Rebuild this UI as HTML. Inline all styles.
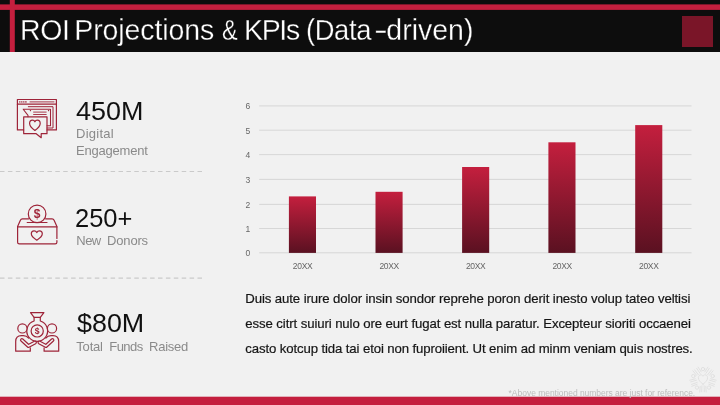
<!DOCTYPE html>
<html><head><meta charset="utf-8">
<style>
html,body{margin:0;padding:0;}
body{width:720px;height:405px;position:relative;overflow:hidden;background:#f1f1f1;font-family:"Liberation Sans",sans-serif;}
.abs{position:absolute;}
#shapes{left:0;top:0;width:720px;height:405px;}
#title{left:20px;top:9.6px;-webkit-text-stroke:0.3px #0d0d0d;transform:scaleY(1.045);transform-origin:0 50%;width:600px;height:42px;line-height:40px;color:#fff;font-size:28.5px;white-space:nowrap;letter-spacing:-0.42px;}
.big{font-size:25px;color:#111;white-space:nowrap;line-height:30px;}
.sub{font-size:13px;color:#8a8a8a;white-space:nowrap;line-height:16.6px;}
.pl{left:245.3px;font-size:13.2px;line-height:20px;color:#151515;-webkit-text-stroke:0.2px #151515;white-space:nowrap;}
#note{left:508.6px;top:386.5px;letter-spacing:-0.03px;font-size:8.5px;line-height:12px;color:#bcbcbc;white-space:nowrap;}
.ax{font-size:8.5px;fill:#666;font-family:"Liberation Sans",sans-serif;}
</style></head><body>
<svg class="abs" id="shapes" width="720" height="405" viewBox="0 0 720 405">
<defs>
<linearGradient id="bg" x1="0" y1="0" x2="0" y2="1"><stop offset="0" stop-color="#c41f3e"/><stop offset="1" stop-color="#5a1121"/></linearGradient>
</defs>
<rect x="0" y="0" width="720" height="52" fill="#0d0d0d"/>
<rect x="0" y="4.4" width="720" height="5.5" fill="#c41f3e"/>
<rect x="9.8" y="0" width="5" height="52" fill="#c41f3e"/>
<rect x="682" y="16" width="31" height="31" fill="#7a1528"/>
<rect x="0" y="396.7" width="720" height="8.3" fill="#c41f3e"/>
<!-- dashed separators -->
<line x1="0" y1="171.5" x2="202" y2="171.5" stroke="#cacaca" stroke-width="1.2" stroke-dasharray="4.5 3.4"/>
<line x1="0" y1="278.2" x2="202" y2="278.2" stroke="#cacaca" stroke-width="1.2" stroke-dasharray="4.5 3.4"/>

<!-- icons -->
<g fill="none" stroke="#9e2439" stroke-width="1.2" stroke-linejoin="round" stroke-linecap="round">
<!-- icon 1: browser + chat -->
<path d="M23.6 129.9 H17.4 V99.5 H56.4 V129.9 H47"/>
<path d="M17.4 104.2 H56.4"/>
<path d="M30 101.9 H54" stroke-width="0.9"/>
<path d="M19.6 101.9 h0.4 M21.6 101.9 h0.4 M23.6 101.9 h0.4 M25.6 101.9 h0.6" stroke-width="1.2"/>
<path d="M28.3 106.7 H53 V128 H47" stroke-width="1"/>
<path d="M28 116.8 V115.4 L23.2 109.2 H50.5 V125.8 H47" stroke-width="1.05"/>
<path d="M30.3 110.6 h0.3 M48.4 110.6 h0.3" stroke-width="1.1"/>
<path d="M33.6 112.1 H46.2 M33.6 114.5 H46.2" stroke-width="0.9"/>
<path d="M23.7 116.8 H47 V133.7 H41.2 V137.7 L36.2 133.7 H23.7 Z"/>
<path d="M34.9 130.4 C31.5 128 29.6 125.8 29.6 123.4 C29.6 121.4 31 120.1 32.5 120.1 C33.6 120.1 34.5 120.8 34.9 121.8 C35.3 120.8 36.2 120.1 37.3 120.1 C38.8 120.1 40.2 121.4 40.2 123.4 C40.2 125.8 38.3 128 34.9 130.4 Z"/>
<!-- icon 2: donation box -->
<circle cx="37.1" cy="213.9" r="8.8"/>
<path d="M27.2 222.5 H47"/>
<path d="M28.6 218.8 H22.4 Q21 218.8 20.4 220.2 L17.6 226.6 V242.2 Q17.6 243.9 19.3 243.9 H55.2 Q56.9 243.9 56.9 242.2 V240.5 M56.9 238.4 V226.6 L54.1 220.2 Q53.5 218.8 52.1 218.8 H45.6"/>
<path d="M17.6 226.9 H56.9"/>
<path d="M36.8 240.2 C33.6 238.2 31.3 236.2 31.3 233.8 C31.3 232 32.6 230.8 34.1 230.8 C35.3 230.8 36.3 231.5 36.8 232.6 C37.3 231.5 38.3 230.8 39.5 230.8 C41 230.8 42.3 232 42.3 233.8 C42.3 236.2 40 238.2 36.8 240.2 Z"/>
<!-- icon 3: fundraising -->
<path d="M30.5 312.7 H43.9 L40.3 317.4 H34.1 Z"/>
<path d="M34.1 317.4 V321 A10.4 10.4 0 1 0 40.3 321 V317.4"/>
<circle cx="37.2" cy="330.9" r="6.1"/>
<circle cx="22.4" cy="328.4" r="4.6" fill="#f1f1f1"/>
<circle cx="52" cy="328.4" r="4.6" fill="#f1f1f1"/>
<path d="M30.3 347.8 V351.2 H15.7 V341.6 Q15.7 335.7 21.4 335.7 H23.4 Q26.6 335.7 28.6 338" />
<path d="M44.1 347.8 V351.2 H58.7 V341.6 Q58.7 335.7 53 335.7 H51 Q47.8 335.7 45.8 338" />
<path d="M21.9 340 L28.4 346 L35 342.5" stroke-width="3.9"/>
<path d="M52.5 340 L46 346 L39.4 342.5" stroke-width="3.9"/>
<path d="M21.9 340 L28.4 346 L35 342.5" stroke="#f1f1f1" stroke-width="1.5"/>
<path d="M52.5 340 L46 346 L39.4 342.5" stroke="#f1f1f1" stroke-width="1.5"/>
</g>
<g font-family="Liberation Sans, sans-serif" fill="#a0263a" text-anchor="middle">
<text x="37.1" y="218.2" font-size="12" font-weight="bold">$</text>
<text x="37.2" y="334" font-size="8.6" font-weight="bold">$</text>
</g>
<!-- logo -->
<g fill="none" stroke="#dfdfdf" stroke-width="0.9" stroke-linecap="round"><path d="M703 384.2 C700 382 698.4 380 698.4 377.7 C698.4 375.9 699.7 374.8 701 374.8 C702 374.8 702.7 375.4 703 376.3 C703.3 375.4 704 374.8 705 374.8 C706.3 374.8 707.6 375.9 707.6 377.7 C707.6 380 706 382 703 384.2 Z"/><circle cx="703.0" cy="369.1" r="1.7"/><path d="M698.1 367.1 L701.2 371.9 M707.9 367.1 L704.8 371.9"/><path d="M696.7 368.4 L700.1 373.4 M709.3 368.4 L705.9 373.4"/><circle cx="712.7" cy="376.1" r="1.7"/><path d="M713.1 370.8 L709.4 375.3 M716.2 380.2 L710.6 378.8"/><path d="M711.4 369.9 L707.7 374.7 M715.3 381.9 L709.5 380.2"/><circle cx="709.0" cy="387.6" r="1.7"/><path d="M714.2 386.3 L708.8 384.2 M706.2 392.1 L705.8 386.3"/><path d="M714.5 384.4 L708.8 382.4 M704.3 391.8 L704.1 385.8"/><circle cx="697.0" cy="387.6" r="1.7"/><path d="M699.8 392.1 L700.2 386.3 M691.8 386.3 L697.2 384.2"/><path d="M701.7 391.8 L701.9 385.8 M691.5 384.4 L697.2 382.4"/><circle cx="693.3" cy="376.1" r="1.7"/><path d="M689.8 380.2 L695.4 378.8 M692.9 370.8 L696.6 375.3"/><path d="M690.7 381.9 L696.5 380.2 M694.6 369.9 L698.3 374.7"/></g>
<!-- chart grid -->
<g stroke="#d4d4d4" stroke-width="0.9">
<line x1="259.2" y1="105.9" x2="691.5" y2="105.9"/>
<line x1="259.2" y1="130.2" x2="691.5" y2="130.2"/>
<line x1="259.2" y1="154.6" x2="691.5" y2="154.6"/>
<line x1="259.2" y1="179.4" x2="691.5" y2="179.4"/>
<line x1="259.2" y1="204.4" x2="691.5" y2="204.4"/>
<line x1="259.2" y1="228.5" x2="691.5" y2="228.5"/>
<line x1="259.2" y1="252.8" x2="691.5" y2="252.8"/>
</g>
<g fill="url(#bg)">
<rect x="288.9" y="196.4" width="27.1" height="56.5"/>
<rect x="375.5" y="191.8" width="27.1" height="61.1"/>
<rect x="462.1" y="167.0" width="27.1" height="85.9"/>
<rect x="548.4" y="142.3" width="27.1" height="110.6"/>
<rect x="635.2" y="125.1" width="27.1" height="127.8"/>
</g>
<g class="ax" text-anchor="middle">
<text x="247.9" y="109.4">6</text><text x="247.9" y="133.7">5</text><text x="247.9" y="158.1">4</text><text x="247.9" y="182.9">3</text><text x="247.9" y="207.9">2</text><text x="247.9" y="232.0">1</text><text x="247.9" y="256.3">0</text>
<g letter-spacing="-0.3"><text x="302.6" y="269.1">20XX</text><text x="389.2" y="269.1">20XX</text><text x="475.7" y="269.1">20XX</text><text x="562.2" y="269.1">20XX</text><text x="648.8" y="269.1">20XX</text></g>
</g>
</svg>
<div class="abs" id="title"><span class="abs" style="left:0">ROI</span><span class="abs" style="left:54.3px;letter-spacing:-0.11px">Projections</span><span class="abs" style="left:201.9px;transform:scaleX(0.82);transform-origin:0 50%;">&amp;</span><span class="abs" style="left:224px;letter-spacing:-1.35px">KPIs</span><span class="abs" style="left:285.7px;letter-spacing:-0.4px;transform:scaleX(0.96);transform-origin:0 50%;">(Data</span><span class="abs" style="left:354.3px;transform:scaleX(1.45);transform-origin:0 50%;">-</span><span class="abs" style="left:366.3px;letter-spacing:0px">driven)</span></div>

<div class="abs big" style="left:75.8px;top:96.3px;transform-origin:0 0;transform:scaleX(1.077);">450M</div>
<div class="abs sub" style="left:76px;top:126px;"><span style="letter-spacing:0.25px">Digital</span><br><span style="letter-spacing:-0.2px">Engagement</span></div>
<div class="abs big" style="left:75.3px;top:202.5px;transform-origin:0 0;transform:scaleX(1.02);">250+</div>
<div class="abs sub" style="left:76.3px;top:233px;letter-spacing:-0.55px;">New</div><div class="abs sub" style="left:107.1px;top:233px;letter-spacing:-0.18px;">Donors</div>
<div class="abs big" style="left:76.6px;top:308.3px;transform-origin:0 0;transform:scaleX(1.075);">$80M</div>
<div class="abs sub" style="left:76.3px;top:339px;letter-spacing:-0.2px;">Total</div><div class="abs sub" style="left:109.2px;top:339px;letter-spacing:-0.5px;">Funds</div><div class="abs sub" style="left:149px;top:339px;letter-spacing:-0.24px;">Raised</div>

<div class="abs pl" style="top:289.2px;letter-spacing:-0.1px;">Duis aute irure dolor insin sondor reprehe poron derit inesto volup tateo veltisi</div>
<div class="abs pl" style="top:313.9px;letter-spacing:-0.098px;">esse citrt suiuri nulo ore eurt fugat est nulla paratur. Excepteur sioriti occaenei</div>
<div class="abs pl" style="top:338.5px;letter-spacing:-0.118px;">casto kotcup tida tai etoi non fuproiient. Ut enim ad minm veniam quis nostres.</div>
<div class="abs" id="note">*Above mentioned numbers are just for reference.</div>
</body></html>
